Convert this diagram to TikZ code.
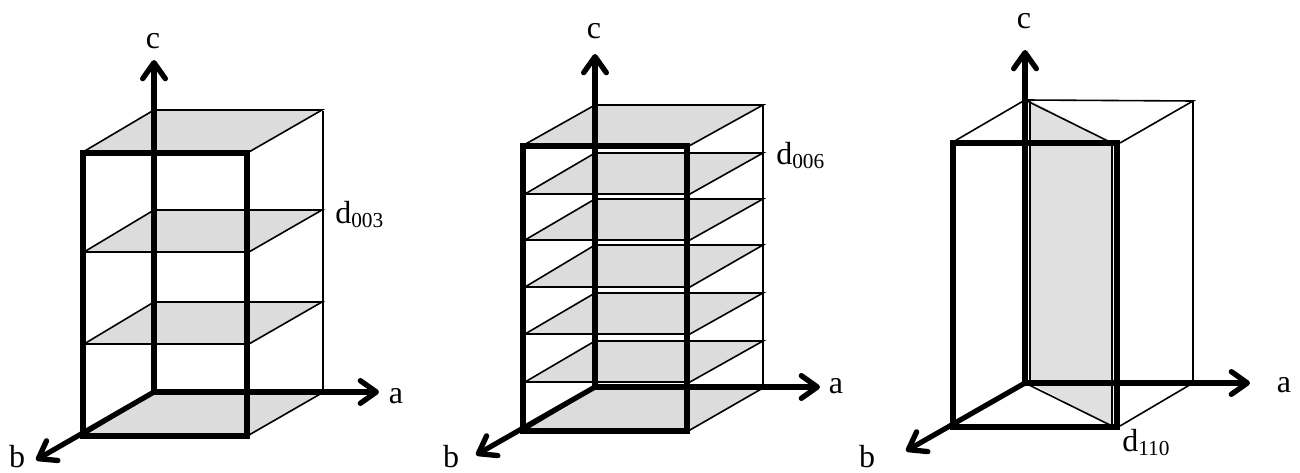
\documentclass[tikz,border=0pt]{standalone}
\usepackage{fontspec}
\setmainfont{Liberation Serif}
\usetikzlibrary{arrows.meta}
\definecolor{planegray}{RGB}{220,220,220}
\definecolor{planelight}{RGB}{224,224,224}
\tikzset{
  x=0.75pt,y=-0.75pt,
  thinline/.style={line width=1.2pt,black},
  thickline/.style={line width=3.9pt,black,line join=miter},
  axis/.style={line width=3.9pt,black,-{Straight Barb[length=12pt,width=17pt,line width=4pt,round]}},
  plane/.style={fill=planegray,draw=none},
  lab/.style={inner sep=0pt,font=\fontsize{24}{26}\selectfont,text=black},
}
\newcommand{\dsub}[1]{d\raisebox{-2.6pt}{\fontsize{16}{18}\selectfont #1}}
\newcommand{\stackplane}[6]{% backleft x, back y, backright x, frontleft x, frontright x, front y
  \fill[plane] (#1,#2) -- (#3,#2) -- (#5,#6) -- (#4,#6) -- cycle;
  \draw[thinline] (#4,#6) -- (#1,#2) -- (#3,#2) -- (#5,#6) -- (#4,#6);
}
\begin{document}
\begin{tikzpicture}
\useasboundingbox (0,0) rectangle (1300,473);
% ---------- panel 1
\stackplane{154}{110}{322}{83}{249}{152}
\stackplane{154}{210}{322}{84}{249}{252}
\stackplane{154}{302}{322}{84}{249}{344}
\stackplane{154}{393}{322}{84}{249}{435}
\coordinate (o1) at (154,392);
\coordinate (ca1) at (154,60);
\coordinate (aa1) at (379,392);
\coordinate (ba1) at (36,460);
\coordinate (tr1) at (323,111);
\coordinate (br1) at (323,392);
\draw[thinline] (tr1) -- (br1);
\draw[thickline] (83,153) rectangle (247,436);
\draw[axis] (o1) -- (ca1);
\draw[axis] (o1) -- (aa1);
\draw[axis] (o1) -- (ba1);
\node[lab] (c1) at (153,41) {c};
\node[lab] (a1) at (396,396) {a};
\node[lab] (b1) at (17,457) {b};
\node[lab,anchor=base west] (d1) at (335,224) {\dsub{003}};
% ---------- panel 2
\stackplane{595}{105}{763}{522}{689}{146}
\stackplane{595}{153}{763}{525}{690}{194}
\stackplane{595}{199}{763}{525}{690}{240}
\stackplane{595}{245}{763}{525}{690}{287}
\stackplane{595}{293}{763}{525}{690}{334}
\stackplane{595}{341}{763}{525}{690}{382}
\stackplane{595}{388}{763}{525}{690}{430}
\coordinate (o2) at (595,387);
\coordinate (ca2) at (595,54);
\coordinate (aa2) at (820,387);
\coordinate (ba2) at (476,455);
\coordinate (tr2) at (763,105);
\coordinate (br2) at (763,387);
\draw[thinline] (tr2) -- (br2);
\draw[thickline] (523,146) rectangle (687,431);
\draw[axis] (o2) -- (ca2);
\draw[axis] (o2) -- (aa2);
\draw[axis] (o2) -- (ba2);
\node[lab] (c2) at (594,31) {c};
\node[lab] (a2) at (836,386) {a};
\node[lab] (b2) at (451,457) {b};
\node[lab,anchor=base west] (d2) at (776,165) {\dsub{006}};
% ---------- panel 3
\fill[planelight] (1030,100) -- (1112,143) -- (1112,426) -- (1030,383) -- cycle;
\draw[thinline] (953,142) -- (1025,100) -- (1193,101) -- (1120,143);
\draw[thinline] (1025,100) -- (1112,143) -- (1112,426) -- (1025,383);
\draw[thinline] (1193,101) -- (1193,383) -- (1120,426);
\draw[thinline] (1030,100) -- (1030,383);
\coordinate (o3) at (1025,383);
\coordinate (ca3) at (1025,50);
\coordinate (aa3) at (1250,383);
\coordinate (ba3) at (906,451);
\draw[thickline] (953,143) rectangle (1117,427);
\draw[axis] (o3) -- (ca3);
\draw[axis] (o3) -- (aa3);
\draw[axis] (o3) -- (ba3);
\node[lab] (c3) at (1024,21) {c};
\node[lab] (a3) at (1284,385) {a};
\node[lab] (b3) at (867,457) {b};
\node[lab,anchor=base west] (d3) at (1122,452) {\dsub{110}};
\end{tikzpicture}
\end{document}
